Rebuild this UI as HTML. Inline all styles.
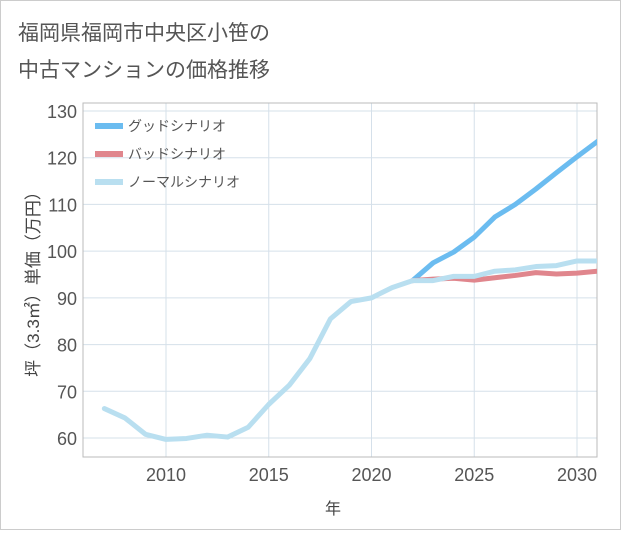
<!DOCTYPE html>
<html><head><meta charset="utf-8"><style>
body{margin:0;background:#fff;font-family:"Liberation Sans","Noto Sans CJK JP",sans-serif;}
#wrap{position:relative;width:621px;height:530px;}
</style></head><body>
<div id="wrap">
<svg id="svg" width="621" height="530" xmlns="http://www.w3.org/2000/svg">
<rect x="0.5" y="0.5" width="620" height="529" fill="#fff" stroke="#ccc"/>
<text x="18" y="40" font-size="21" fill="#555">福岡県福岡市中央区小笹の</text>
<text x="18" y="77" font-size="21" fill="#555">中古マンションの価格推移</text>
<g id="grid"></g>
<g id="series"></g>
<g id="legend"></g>
<text x="333" y="514" font-size="16" fill="#444" text-anchor="middle">年</text>
<text transform="translate(39,280) rotate(-90)" font-size="17" fill="#444" text-anchor="middle">坪（3.3㎡）単価（万円）</text>
</svg></div>
<script>
const years=[2007,2008,2009,2010,2011,2012,2013,2014,2015,2016,2017,2018,2019,2020,2021,2022,2023,2024,2025,2026,2027,2028,2029,2030,2031];
const normalVals=[66.3,64.3,60.8,59.7,59.9,60.6,60.2,62.3,67.2,71.3,77.0,85.5,89.2,90.0,92.2,93.7,93.7,94.6,94.6,95.7,96.0,96.7,96.9,97.9,97.9];
const scenarioYears=[2022,2023,2024,2025,2026,2027,2028,2029,2030,2031];
const goodVals=[93.7,97.5,99.8,103,107.3,110,113.3,116.8,120.2,123.5];
const badVals=[93.7,94.0,94.2,93.8,94.3,94.8,95.4,95.1,95.3,95.7];
const yTicks=[60,70,80,90,100,110,120,130];
const xTicks=[2010,2015,2020,2025,2030];
const legendLabels=["グッドシナリオ","バッドシナリオ","ノーマルシナリオ"];
const L=83,R=597,T=103,B=457;
const xs=y=>166+(y-2010)*(577-166)/20;
const ys=v=>438-(v-60)*(438-111)/70;
const NS="http://www.w3.org/2000/svg";
function mk(t,a,p){const e=document.createElementNS(NS,t);for(const k in a)e.setAttribute(k,a[k]);p.appendChild(e);return e;}
const g=document.getElementById('grid');
yTicks.forEach(v=>{const l=mk('line',{x1:L,x2:R,y1:ys(v),y2:ys(v),stroke:'#d5e0ea'},g);


const t=mk('text',{x:L-6,y:ys(v)+7,'font-size':18,fill:'#555','text-anchor':'end'},g);t.textContent=v;

});
xTicks.forEach(v=>{const l=mk('line',{x1:xs(v),x2:xs(v),y1:T,y2:B,stroke:'#d5e0ea'},g);


const t=mk('text',{x:xs(v),y:B+24,'font-size':18,fill:'#555','text-anchor':'middle'},g);t.textContent=v;

});
const fr=mk('rect',{x:L,y:T,width:R-L,height:B-T,fill:'none',stroke:'#bbb'},g);


const s=document.getElementById('series');
function line(xv,yv,c,n){const p=mk('polyline',{points:xv.map((x,i)=>xs(x)+','+ys(yv[i])).join(' '),fill:'none',stroke:c,'stroke-width':5,'stroke-linejoin':'round','stroke-linecap':'round'},s);

}
mk('clipPath',{id:'cp'},s).appendChild(document.createElementNS(NS,'rect'));
s.setAttribute('clip-path','url(#cp)');
const cr=s.querySelector('#cp rect');cr.setAttribute('x',L);cr.setAttribute('y',T);cr.setAttribute('width',R-L);cr.setAttribute('height',B-T);
line(scenarioYears,goodVals,'#6bbcf0','good-scenario-line');
line(scenarioYears,badVals,'#e0868d','bad-scenario-line');
line(years,normalVals,'#b9dff0','normal-scenario-line');
const lg=document.getElementById('legend');const cols=['#6bbcf0','#e0868d','#b9dff0'];
legendLabels.forEach((n,i)=>{const y=126+i*28;
const r=mk('rect',{x:95,y:y-3,width:28,height:6,fill:cols[i]},lg);


const t=mk('text',{x:128,y:y+5,'font-size':14,fill:'#555'},lg);t.textContent=n;

});
</script></body></html>
